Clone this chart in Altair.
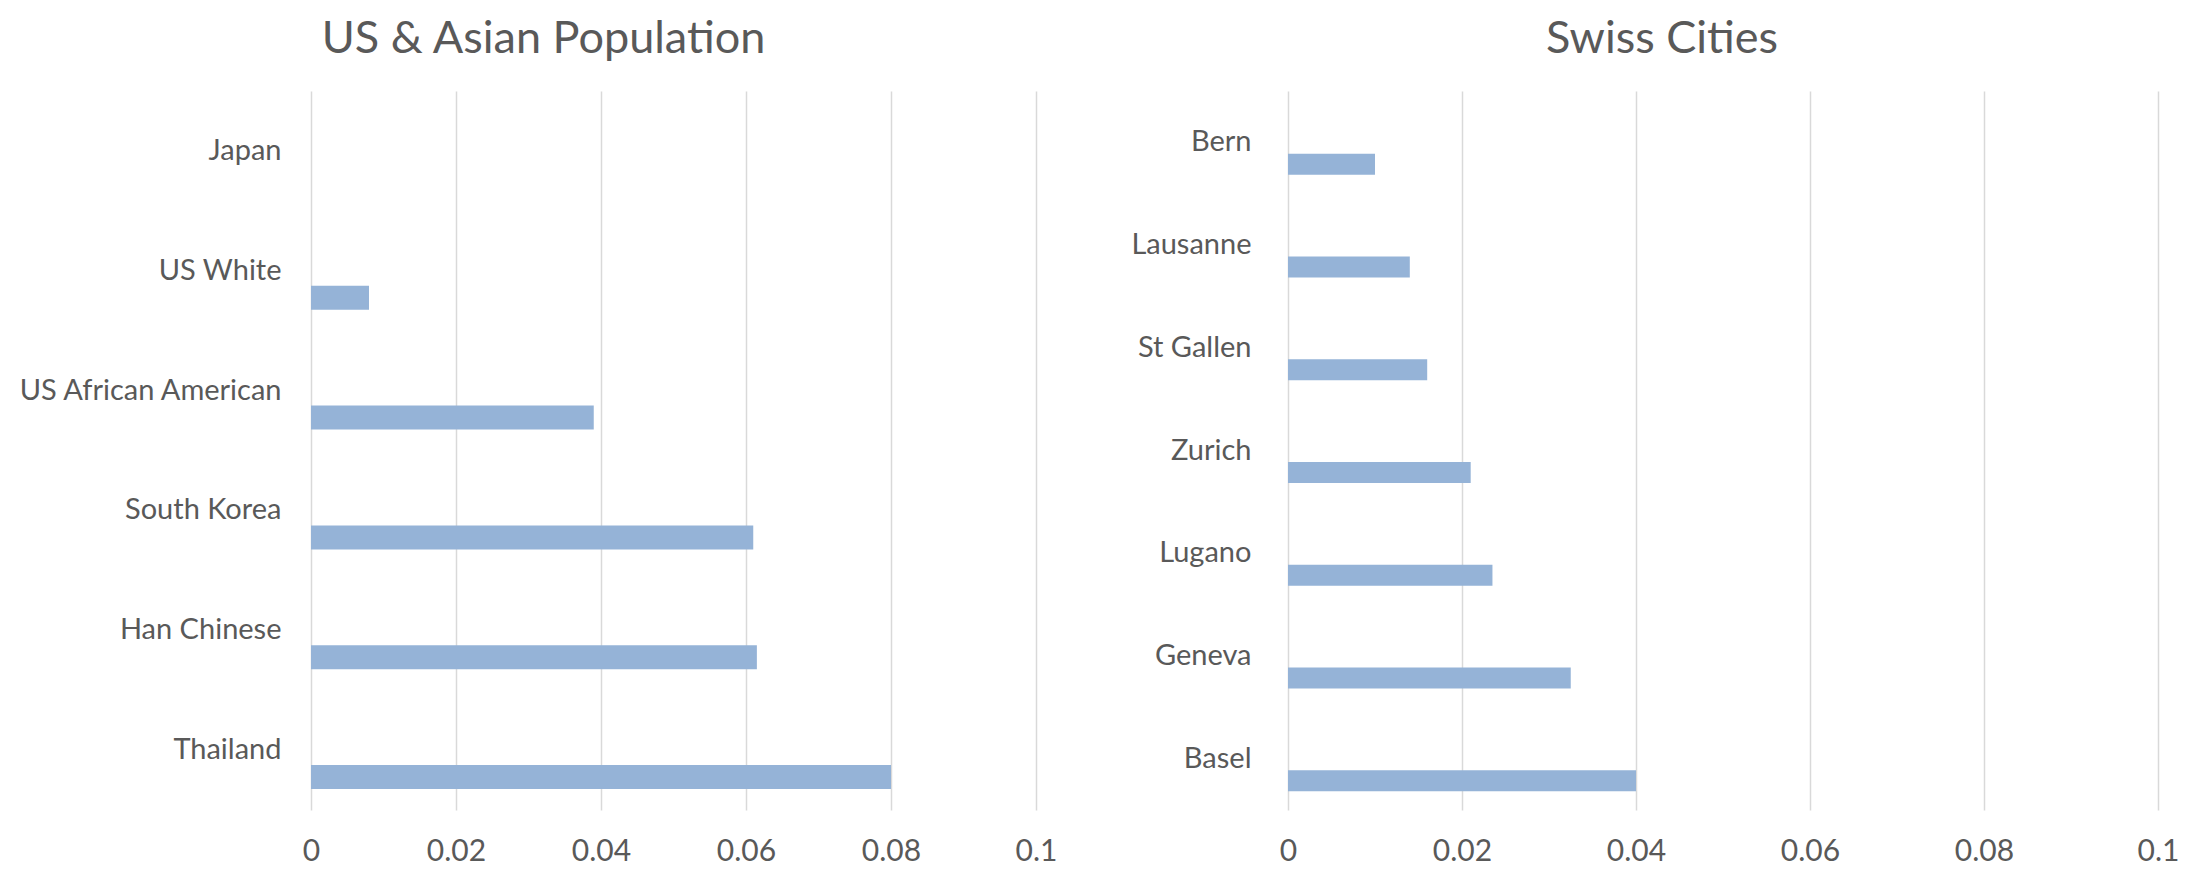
import altair as alt
import pandas as pd

left_categories = ["Japan", "US White", "US African American", "South Korea", "Han Chinese", "Thailand"]
left_values = [0.0, 0.008, 0.039, 0.061, 0.0615, 0.08]
right_categories = ["Bern", "Lausanne", "St Gallen", "Zurich", "Lugano", "Geneva", "Basel"]
right_values = [0.010, 0.014, 0.016, 0.021, 0.0235, 0.0325, 0.040]
x_ticks = [0, 0.02, 0.04, 0.06, 0.08, 0.1]
left_title = "US & Asian Population"
right_title = "Swiss Cities"

FONT = "Lato"
TEXT = "#595959"
BAR = "#95B3D7"
GRID = "#D9D9D9"
PLOT_H = 719


def panel(cats, vals, title, width, dx, extent, bar_h, y_off, lab_pad):
    df = pd.DataFrame({"category": cats, "value": vals})
    return (
        alt.Chart(
            df,
            title=alt.TitleParams(
                title, fontSize=45, font=FONT, color=TEXT, fontWeight="normal",
                anchor="middle", frame="group", dx=dx, offset=29, baseline="top",
            ),
        )
        .mark_bar(size=bar_h, yOffset=y_off, color=BAR)
        .encode(
            x=alt.X(
                "value:Q",
                scale=alt.Scale(domain=[0, 0.1], nice=False, zero=True),
                axis=alt.Axis(
                    values=x_ticks, format="~g", title=None, grid=True, gridColor=GRID,
                    gridWidth=1.5, ticks=False, domain=False, labelFont=FONT,
                    labelFontSize=30, labelColor=TEXT, labelPadding=26, labelFlush=False,
                ),
            ),
            y=alt.Y(
                "category:N",
                sort=cats,
                scale=alt.Scale(paddingInner=0, paddingOuter=0),
                axis=alt.Axis(
                    title=None, grid=False, ticks=False, domain=False, labelFont=FONT,
                    labelFontSize=29, labelColor=TEXT, labelPadding=lab_pad,
                    minExtent=extent, maxExtent=extent, labelLimit=400,
                ),
            ),
            tooltip=["category", "value"],
        )
        .properties(width=width, height=PLOT_H)
    )


left = panel(left_categories, left_values, left_title, 725, -130, 303, 24, 27, 30)
right = panel(right_categories, right_values, right_title, 870, -61, 200, 21, 22, 37)

chart = (
    alt.hconcat(left, right, spacing=252, bounds="flush")
    .properties(padding={"top": 9, "left": 0, "right": 0, "bottom": 0}, background="white")
    .configure_view(stroke=None)
)

chart.save("out.html", embed_options={"renderer": "svg", "actions": False})
